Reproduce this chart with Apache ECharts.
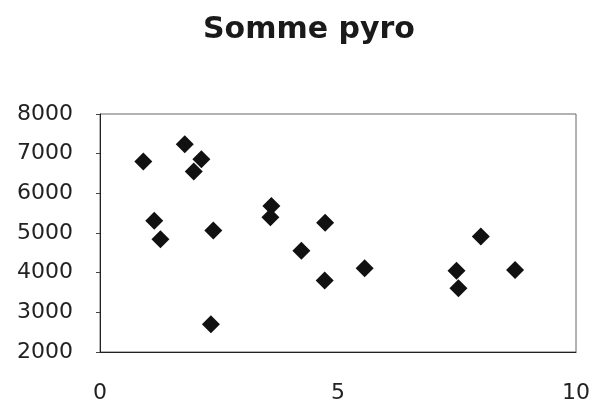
<!DOCTYPE html>
<html>
<head>
<meta charset="utf-8">
<script src="https://cdn.jsdelivr.net/npm/echarts@6/dist/echarts.min.js"></script>
<style>html,body{margin:0;padding:0;background:#fff;}#c{width:593px;height:410px;}</style>
</head>
<body>
<div id="c"></div>
<script>
const title = "Somme pyro";
const xValues = [0.91, 1.78, 2.13, 1.97, 1.14, 1.27, 2.38, 2.33, 3.60, 3.58, 4.73, 4.23, 4.72, 5.56, 7.49, 7.53, 8.00, 8.72];
const yValues = [6800, 7240, 6860, 6550, 5310, 4840, 5060, 2700, 5680, 5400, 5260, 4550, 3800, 4110, 4050, 3610, 4910, 4070];
const xTicks = [0, 5, 10];
const yTicks = [2000, 3000, 4000, 5000, 6000, 7000, 8000];

const points = xValues.map((x, i) => [x, yValues[i]]);
const chart = echarts.init(document.getElementById('c'));
chart.setOption({
  animation: false,
  backgroundColor: '#fff',
  title: {
    text: title, left: 198, top: 10,
    textStyle: { fontFamily: 'DejaVu Sans', fontWeight: 'bold', fontSize: 30, color: '#1a1a1a' }
  },
  grid: { left: 100, right: 16, top: 114, bottom: 58, show: true, borderColor: '#666', borderWidth: 1 },
  xAxis: {
    type: 'value', min: xTicks[0], max: xTicks[xTicks.length - 1], interval: 5,
    axisLine: { show: true, lineStyle: { color: '#222', width: 1 } },
    axisTick: { show: false },
    splitLine: { show: false },
    axisLabel: { margin: 30, fontFamily: 'DejaVu Sans', fontSize: 22, color: '#222',
      formatter: v => xTicks.includes(v) ? String(v) : '' }
  },
  yAxis: {
    type: 'value', min: yTicks[0], max: yTicks[yTicks.length - 1], interval: 1000,
    axisLine: { show: true, lineStyle: { color: '#222', width: 1 } },
    axisTick: { show: true, inside: false, length: 4, lineStyle: { color: '#444' } },
    splitLine: { show: false },
    axisLabel: { margin: 27, fontFamily: 'DejaVu Sans', fontSize: 22, color: '#222',
      formatter: v => String(v) }
  },
  series: [{
    type: 'scatter', data: points, symbol: 'diamond', symbolSize: 18,
    itemStyle: { color: '#111', opacity: 1 }
  }]
});
</script>
</body>
</html>
